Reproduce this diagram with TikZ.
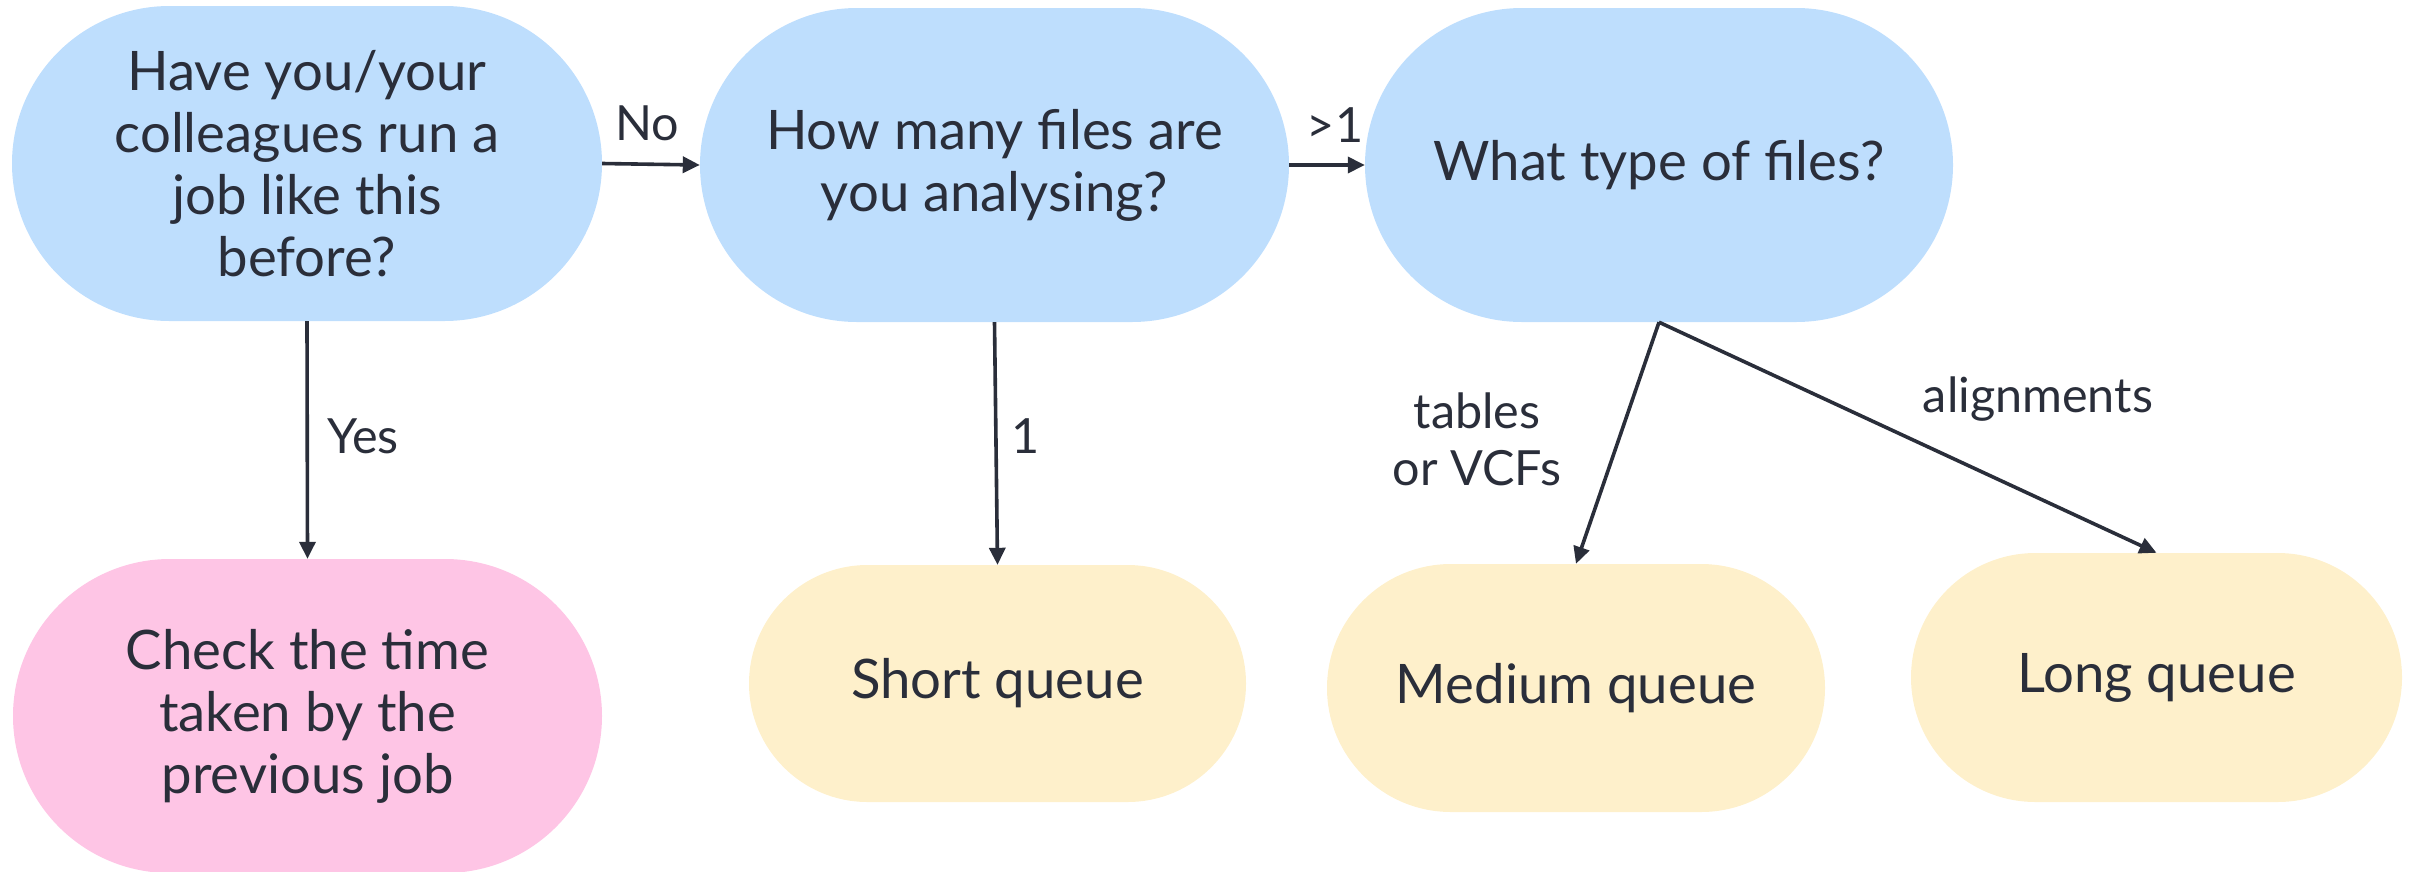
\documentclass[tikz,border=0pt]{standalone}
\usepackage{fontspec}
\setmainfont{Lato}
\usetikzlibrary{arrows.meta}
\definecolor{askblue}{HTML}{BEDEFD}
\definecolor{checkpink}{HTML}{FEC5E5}
\definecolor{queueyellow}{HTML}{FEF0CB}
\definecolor{ink}{HTML}{2A2E3A}
\tikzset{
  pill/.style 2 args={draw=none, inner sep=0pt, align=center, text=ink,
    minimum width=#1, minimum height=#2, rounded corners=#2/2,
    font=\fontsize{54.5}{62}\selectfont},
  question/.style={fill=askblue},
  action/.style={fill=checkpink},
  queue/.style={fill=queueyellow},
  flow/.style={draw=ink, line width=3.6pt, -{Triangle[length=17pt,width=16pt]}},
  edgelabel/.style={text=ink, inner sep=0pt, anchor=base, align=center,
    font=\fontsize{48.5}{57}\selectfont}
}
\begin{document}
\begin{tikzpicture}[x=1pt,y=-1pt]
\useasboundingbox (0,0) rectangle (2415,871);

% decision nodes
\node[pill={590pt}{315pt}, question] (ran) at (307,163.5)
  {Have you/your\\colleagues run a\\job like this\\before?};
\node[pill={589pt}{314pt}, question] (howmany) at (994.5,165)
  {How many files are\\you analysing?};
\node[pill={588pt}{314pt}, question] (ftype) at (1659,165)
  {What type of files?};

% outcomes
\node[pill={589pt}{314pt}, action] (check) at (307.5,716)
  {Check the time\\taken by the\\previous job};
\node[pill={497pt}{237pt}, queue] (short) at (997.5,683.5) {Short queue};
\node[pill={498pt}{248pt}, queue] (medium) at (1576,688) {Medium queue};
\node[pill={491pt}{249pt}, queue] (long) at (2156.5,677.5) {Long queue};

% connectors
\draw[flow] (ran.east) -- (howmany.west);
\draw[flow] (howmany.east) -- (ftype.west);
\draw[flow] (ran.south) -- (check.north);
\draw[flow] (howmany.south) -- (short.north);
\draw[flow] (ftype.south) -- (medium.north);
\draw[flow] (ftype.south) -- (long.north);

% connector labels (base = baseline of the last line)
\node[edgelabel] (lno) at (647,140) {No};
\node[edgelabel] (lmore) at (1335,142) {>1};
\node[edgelabel] (lyes) at (363,453) {Yes};
\node[edgelabel] (lone) at (1026,453) {1};
\node[edgelabel] (ltab) at (1477,485) {tables\\or VCFs};
\node[edgelabel] (laln) at (2038,412) {alignments};
\end{tikzpicture}
\end{document}
